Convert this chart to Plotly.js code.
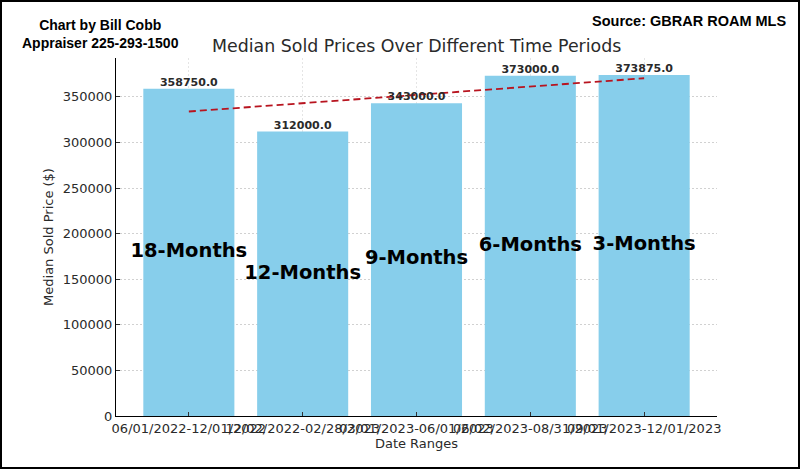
<!DOCTYPE html>
<html>
<head>
<meta charset="utf-8">
<script src="https://cdn.plot.ly/plotly-3.0.1.min.js"></script>
<style>
  html, body { margin: 0; padding: 0; background: #fff; }
  #chart { width: 800px; height: 469px; box-sizing: border-box; border: 2px solid #000; }
</style>
</head>
<body>
<div id="chart"></div>
<script>
// ---- data ----
const dateRanges = [
  "06/01/2022-12/01/2022",
  "12/02/2022-02/28/2023",
  "03/01/2023-06/01/2023",
  "06/02/2023-08/31/2023",
  "09/01/2023-12/01/2023"
];
const periodLabels = ["18-Months", "12-Months", "9-Months", "6-Months", "3-Months"];
const medianPrices = [358750, 312000, 343000, 373000, 373875];
const trendX = [0, 4];
const trendValues = [333875, 370375];
const yTicks = [0, 50000, 100000, 150000, 200000, 250000, 300000, 350000];

const idx = dateRanges.map((_, i) => i);
const textColor = '#2a2a2a';
const dv = 'DejaVu Sans, sans-serif';

const traces = [
  {
    type: 'bar', x: idx, y: medianPrices, width: 0.8,
    marker: { color: '#87CEEB' }, hoverinfo: 'skip'
  },
  {
    type: 'scatter', mode: 'lines', x: trendX, y: trendValues,
    line: { color: '#b8141f', width: 1.8, dash: '7px,4px' }, hoverinfo: 'skip'
  },
  {
    type: 'scatter', mode: 'text', x: idx, y: medianPrices,
    text: medianPrices.map(v => v.toFixed(1)), textposition: 'top center',
    textfont: { family: dv, size: 11, weight: 'bold', color: textColor }, hoverinfo: 'skip'
  },
  {
    type: 'scatter', mode: 'text', x: idx, y: medianPrices.map(v => v / 2),
    text: periodLabels, textposition: 'middle center',
    textfont: { family: dv, size: 19.5, weight: 'bold', color: '#000' }, hoverinfo: 'skip'
  }
];

const layout = {
  width: 796, height: 465,
  margin: { l: 114, r: 81, t: 56, b: 51 },
  paper_bgcolor: '#fff', plot_bgcolor: '#fff',
  showlegend: false,
  font: { family: dv, color: textColor, size: 13 },
  xaxis: {
    range: [-0.64, 4.64], tickmode: 'array', tickvals: idx, ticktext: dateRanges,
    tickangle: 0, ticks: 'inside', ticklen: 4, tickcolor: '#333',
    showline: true, linecolor: '#000', linewidth: 1, zeroline: false,
    showgrid: true, gridcolor: 'rgba(150,150,150,0.25)', griddash: '2px,2px', gridwidth: 1,
    layer: 'above traces',
    tickfont: { family: dv, size: 13, color: textColor },
    title: { text: 'Date Ranges', font: { family: dv, size: 13, color: textColor }, standoff: 3 }
  },
  yaxis: {
    range: [0, 392568], tickmode: 'array', tickvals: yTicks, tickformat: 'd',
    ticks: 'inside', ticklen: 4, tickcolor: '#333',
    showline: true, linecolor: '#000', linewidth: 1, zeroline: false,
    showgrid: true, gridcolor: 'rgba(190,190,190,0.7)', griddash: '2px,2px', gridwidth: 1,
    layer: 'below traces',
    tickfont: { family: dv, size: 13, color: textColor },
    title: { text: 'Median Sold Price ($)', font: { family: dv, size: 13, color: textColor }, standoff: 6 }
  },
  annotations: [
    {
      text: 'Median Sold Prices Over Different Time Periods', xref: 'paper', yref: 'paper',
      x: 0.5, y: 1.0335, xanchor: 'center', yanchor: 'middle', showarrow: false,
      font: { family: dv, size: 17.4, color: textColor }
    },
    {
      text: 'Chart by Bill Cobb<br>Appraiser 225-293-1500', xref: 'paper', yref: 'paper',
      x: -0.0266, y: 1.066, xanchor: 'center', yanchor: 'middle', showarrow: false,
      align: 'center',
      font: { family: 'Liberation Sans, Arial, sans-serif', size: 14, weight: 'bold', color: '#000' }
    },
    {
      text: 'Source: GBRAR ROAM MLS', xref: 'paper', yref: 'paper',
      x: 1.118, y: 1.104, xanchor: 'right', yanchor: 'middle', showarrow: false,
      font: { family: 'Liberation Sans, Arial, sans-serif', size: 14.5, weight: 'bold', color: '#000' }
    }
  ]
};

Plotly.newPlot('chart', traces, layout, { staticPlot: true, displayModeBar: false });
</script>
</body>
</html>
